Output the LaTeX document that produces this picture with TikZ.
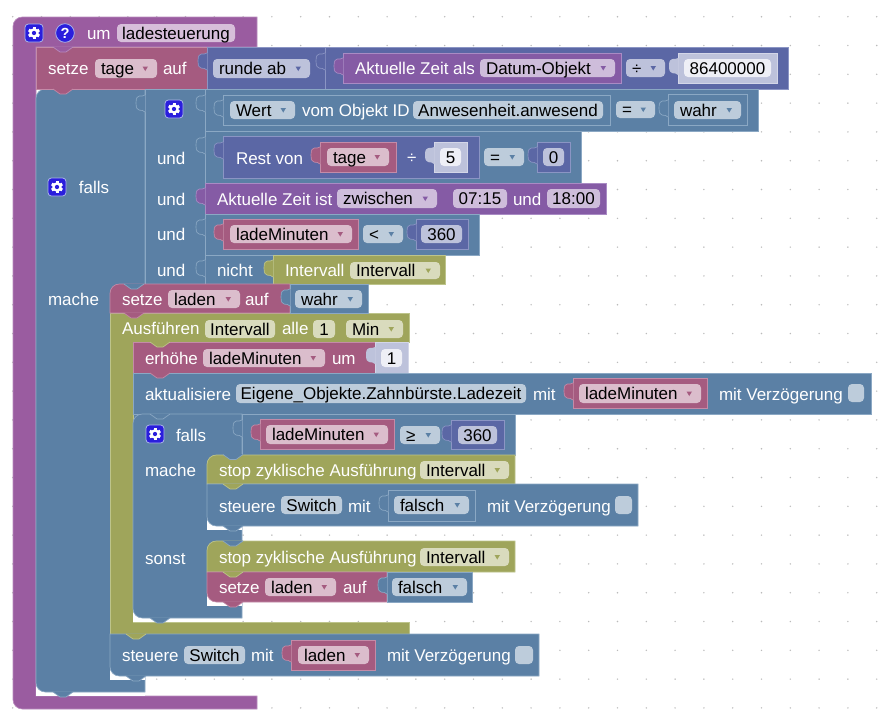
\documentclass[tikz,border=0pt]{standalone}
\usepackage{fontspec}
\setmainfont{Liberation Sans}
\definecolor{hat}{HTML}{9A5CA0}\definecolor{hatL}{HTML}{B98CBD}\definecolor{hatF}{HTML}{D7BEDA}
\definecolor{rd}{HTML}{A55B80}\definecolor{rdL}{HTML}{C48BA8}\definecolor{rdF}{HTML}{DBBDCC}
\definecolor{bl}{HTML}{5B80A5}\definecolor{blL}{HTML}{8BA8C4}\definecolor{blF}{HTML}{BDCCDB}
\definecolor{ind}{HTML}{5B67A5}\definecolor{indL}{HTML}{8B95C4}\definecolor{indF}{HTML}{BDC2DB}
\definecolor{dp}{HTML}{855BA5}\definecolor{dpL}{HTML}{A98BC4}\definecolor{dpF}{HTML}{CEBDDB}
\definecolor{ol}{HTML}{9FA55B}\definecolor{olL}{HTML}{BDC48B}\definecolor{olF}{HTML}{D9DBBD}
\definecolor{numF}{HTML}{BDC2DB}\definecolor{numL}{HTML}{D3D6E8}\definecolor{numW}{HTML}{EEEFF6}
\definecolor{gearb}{HTML}{2A1EDC}\definecolor{gearL}{HTML}{A9B4E8}\definecolor{griddot}{HTML}{BBBBBB}
\newcounter{nn}
\tikzset{
  lab/.style={inner sep=0pt,outer sep=0pt,text=white,font=\fontsize{12.75}{15}\selectfont},
  val/.style={inner sep=0pt,outer sep=0pt,text=black,font=\fontsize{12.75}{15}\selectfont},
  blockedge/.style={line width=0.5pt,draw=#1L,fill=#1}
}
% rectangular block
\newcommand{\blk}[5]{\path[blockedge=#1] (#2,#3) rectangle (#4,#5);}
% free label, left x and centre y
\newcommand{\lbl}[3]{\stepcounter{nn}\node[lab,anchor=base west] (t\thenn) at ({#1},{#2+6.3}) {#3};}
% field with centred text
\newcommand{\fld}[6]{\stepcounter{nn}\fill[#1,rounded corners=3pt] (#2,#3) rectangle (#4,#5);
  \node[val,anchor=base] (t\thenn) at ({(#2+#4)/2},{(#3+#5)/2+6.3}) {#6};}
% dropdown field: colour, box, text, triangle colour
\newcommand{\ddf}[7]{\stepcounter{nn}\fill[#1,rounded corners=3pt] (#2,#3) rectangle (#4,#5);
  \node[val,anchor=base west] (t\thenn) at ({#2+6},{(#3+#5)/2+6.3}) {#6};
  \fill[#7] ({#4-14.5},{(#3+#5)/2-2}) -- ({#4-9},{(#3+#5)/2-2}) -- ({#4-11.75},{(#3+#5)/2+2.5}) -- cycle;}
% input tab at left edge x, top y
\newcommand{\tab}[3]{\begin{scope}[shift={(#1,#2-1)}]
  \path[fill=#3] (0.4,0) -- (0,0) .. controls (-3,3) and (-9,-3) .. (-9,8) .. controls (-9,19) and (-3,13) .. (0,17) -- (0.4,17) -- cycle;
  \draw[#3L,line width=0.5pt] (0,0) .. controls (-3,3) and (-9,-3) .. (-9,8) .. controls (-9,19) and (-3,13) .. (0,17);
  \end{scope}}
% light number-block tab
\newcommand{\numtab}[2]{\begin{scope}[shift={(#1,#2-1)}]
  \path[fill=numF] (0.6,0) -- (0,0) .. controls (-3,3) and (-9,-3) .. (-9,8) .. controls (-9,19) and (-3,13) .. (0,17) -- (0.6,17) -- cycle;
  \end{scope}}
\newcommand{\numblk}[4]{\path[fill=numF,draw=numL,line width=0.5pt] (#1,#2) rectangle (#3,#4);}
% statement notch or bump centred at x on edge y
\newcommand{\bump}[3]{\begin{scope}[shift={(#1,#2)}]
  \path[fill=#3] (-10,-0.5) -- (-10,0) -- (-3,5) -- (3,5) -- (10,0) -- (10,-0.5) -- cycle;
  \draw[#3L,line width=0.5pt] (-10,0) -- (-3,5) -- (3,5) -- (10,0);
  \end{scope}}
\newcommand{\gearicon}[2]{\begin{scope}[shift={(#1,#2)}]
  \draw[fill=gearb,draw=gearL,line width=0.6pt,rounded corners=2.5pt] (-9,-9) rectangle (9,9);
  \foreach \a in {0,60,120} {\fill[white,rotate=\a] (-1.5,-6) rectangle (1.5,6);}
  \fill[white] (0,0) circle (3.6pt);
  \fill[gearb] (0,0) circle (1.6pt);
  \end{scope}}
\newcommand{\chk}[4]{\fill[blF,rounded corners=3pt] (#1,#2) rectangle (#3,#4);}
\begin{document}
\begin{tikzpicture}[x=0.75pt,y=-0.75pt]
\useasboundingbox (0,0) rectangle (883,726);
\fill[white] (0,0) rectangle (883,726);
% workspace grid
\foreach \i in {0,...,30} \foreach \j in {0,...,24} {\fill[griddot] ({12.7+28.8*\i},{16.7+28.8*\j}) circle (0.6pt);}
% hat block
\path[blockedge=hat,rounded corners=7pt] (13,709) -- (13,17) [sharp corners] -- (257,17) -- (257,47) -- (36,47) -- (36,696) -- (257,696) -- (257,709) [rounded corners=7pt] -- cycle;
\gearicon{34}{33}
\draw[fill=gearb,draw=gearL,line width=0.6pt] (65,33) circle (7pt);
\node[lab,font=\fontsize{11}{13}\selectfont\bfseries,anchor=center] (help) at (65,33) {?};
\lbl{87}{33}{um}
\fld{hatF}{117}{24}{235}{42}{ladesteuerung}
% falls (outer) body, with gap above the purple foot
\fill[white] (36,680) rectangle (145,696);
\path[blockedge=bl,rounded corners=7pt] (36,692) -- (36,89) [sharp corners] -- (145,89) -- (145,692) [rounded corners=7pt] -- cycle;
% setze tage
\path[blockedge=rd] (36,47) rectangle (207,89);
\blk{ind}{207}{47}{788}{89}
\draw[indL,line width=0.5pt] (325,47) -- (325,89);
\tab{207}{54}{ind}
\tab{325}{54}{ind}
\lbl{48}{68.5}{setze}
\ddf{rdF}{95}{59}{157}{78}{tage}{rd}
\lbl{163}{68.5}{auf}
\ddf{indF}{213}{59}{310}{78}{runde ab}{ind}
\blk{dp}{343}{53}{621}{83}
\tab{343}{59}{dp}
\lbl{355}{68}{Aktuelle Zeit als}
\ddf{dpF}{480}{59}{615}{77}{Datum-Objekt}{dp}
\ddf{indF}{626}{59}{665}{77}{÷}{ind}
\numblk{678}{53}{777}{83}
\numtab{678}{59}
\fld{numW}{684}{59}{771}{77}{86400000}
% und block
\path[blockedge=bl] (145,89) rectangle (205,285);
\tab{145}{96}{bl}
\gearicon{174}{109}
\lbl{157}{158}{und}
\lbl{157}{199}{und}
\lbl{157}{234}{und}
\lbl{157}{270}{und}
\gearicon{57}{187}
\lbl{79}{187}{falls}
\lbl{48}{299}{mache}
% row 1
\blk{bl}{205}{89}{758}{131}
\tab{205}{96}{bl}
\blk{bl}{223}{95}{610}{125}
\tab{223}{101}{bl}
\ddf{blF}{230}{101}{295}{119}{Wert}{bl}
\lbl{302}{110}{vom Objekt ID}
\fld{blF}{413}{101}{603}{119}{Anwesenheit.anwesend}
\ddf{blF}{616}{101}{655}{118}{=}{bl}
\blk{bl}{668}{94}{747}{125}
\tab{668}{101}{bl}
\ddf{blF}{674}{101}{741}{119}{wahr}{bl}
% row 2
\blk{bl}{205}{131}{581}{183}
\tab{205}{138}{bl}
\blk{ind}{223}{136}{479}{178}
\tab{223}{143}{ind}
\lbl{236}{158}{Rest von}
\blk{rd}{320}{142}{396}{172}
\tab{320}{148}{rd}
\ddf{rdF}{327}{148}{389}{166}{tage}{rd}
\lbl{407}{157}{÷}
\numblk{434}{142}{467}{172}
\numtab{434}{148}
\fld{numW}{440}{148}{461}{166}{5}
\ddf{blF}{484}{148}{524}{166}{=}{bl}
\blk{ind}{537}{142}{570}{172}
\tab{537}{148}{ind}
\fld{indF}{543}{148}{564}{166}{0}
% row 3
\blk{dp}{205}{183}{606}{214}
\tab{205}{189}{dp}
\lbl{217}{199}{Aktuelle Zeit ist}
\ddf{dpF}{337}{189}{437}{208}{zwischen}{dp}
\fld{dpF}{453}{189}{507}{208}{07:15}
\lbl{513}{199}{und}
\fld{dpF}{547}{189}{600}{208}{18:00}
% row 4
\blk{bl}{205}{214}{479}{255}
\tab{205}{220}{bl}
\blk{rd}{223}{219}{358}{249}
\tab{223}{225}{rd}
\ddf{rdF}{230}{225}{352}{243}{ladeMinuten}{rd}
\ddf{blF}{363}{225}{403}{243}{<}{bl}
\blk{ind}{416}{219}{468}{249}
\tab{416}{225}{ind}
\fld{indF}{421}{225}{462}{243}{360}
% row 5
\blk{bl}{205}{255}{273}{285}
\tab{205}{261}{bl}
\lbl{217}{270}{nicht}
\blk{ol}{273}{255}{445}{284}
\tab{273}{261}{ol}
\lbl{285}{270}{Intervall}
\ddf{olF}{350}{262}{440}{279}{Intervall}{ol}
% mache body: interval block
\path[blockedge=ol] (110,313) -- (409,313) -- (409,342) -- (133,342) -- (133,622) -- (409,622) -- (409,634) -- (110,634) -- cycle;
\lbl{122}{328}{Ausführen}
\fld{olF}{205}{320}{275}{338}{Intervall}
\lbl{282}{328}{alle}
\fld{olF}{313}{320}{335}{338}{1}
\ddf{olF}{346}{320}{403}{338}{Min}{ol}
% setze laden
\path[blockedge=rd,rounded corners=7pt] (110,313) -- (110,284) [sharp corners] -- (290,284) -- (290,313) -- cycle;
\blk{bl}{290}{284}{368}{313}
\tab{290}{290}{bl}
\lbl{122}{299}{setze}
\ddf{rdF}{168}{290}{240}{308}{laden}{rd}
\lbl{245}{299}{auf}
\ddf{blF}{295}{290}{362}{308}{wahr}{bl}
\bump{134}{284}{bl}
\bump{134}{313}{rd}
% erhoehe
\blk{rd}{133}{342}{375}{373}
\numblk{375}{342}{408}{373}
\numtab{375}{348}
\lbl{145}{358}{erhöhe}
\ddf{rdF}{203}{349}{325}{367}{ladeMinuten}{rd}
\lbl{332}{358}{um}
\fld{numW}{381}{349}{402}{367}{1}
\bump{160}{342}{ol}
% aktualisiere
\blk{bl}{133}{373}{871}{414}
\bump{160}{373}{rd}
\lbl{145}{394}{aktualisiere}
\fld{blF}{236}{384}{526}{403}{Eigene\_Objekte.Zahnbürste.Ladezeit}
\lbl{533}{394}{mit}
\blk{rd}{573}{378}{707}{408}
\tab{573}{384}{rd}
\ddf{rdF}{579}{384}{701}{403}{ladeMinuten}{rd}
\lbl{719}{394}{mit Verzögerung}
\chk{848}{384}{864}{402}
% inner falls
\fill[white] (133,606) -- (133,622) -- (242,622) -- (242,606) -- cycle;
\path[blockedge=bl,rounded corners=7pt] (133,618) -- (133,414) [sharp corners] -- (242,414) -- (242,618) [rounded corners=7pt] -- cycle;
\path[blockedge=bl] (242,414) rectangle (515,455);
\bump{160}{414}{bl}
\tab{242}{421}{bl}
\gearicon{155}{434}
\lbl{176}{435}{falls}
\blk{rd}{260}{419}{394}{449}
\tab{260}{425}{rd}
\ddf{rdF}{266}{425}{388}{444}{ladeMinuten}{rd}
\ddf{blF}{400}{426}{440}{444}{≥}{bl}
\blk{ind}{451}{420}{504}{449}
\tab{451}{426}{ind}
\fld{indF}{458}{426}{497}{444}{360}
\lbl{145}{470}{mache}
\lbl{145}{558}{sonst}
% mache branch
\fill[white] (207,515) rectangle (242,530);
\path[blockedge=ol,rounded corners=7pt] (207,484) -- (207,455) [sharp corners] -- (515,455) -- (515,484) -- cycle;
\bump{233}{454.5}{bl}
\lbl{219}{470}{stop zyklische Ausführung}
\ddf{olF}{420}{461}{509}{479}{Intervall}{ol}
\path[blockedge=bl,rounded corners=7pt] (207,484) -- (207,526) [sharp corners] -- (638,526) -- (638,484) -- cycle;
\bump{233}{484}{ol}
\lbl{219}{506}{steuere}
\fld{blF}{281}{496}{342}{514}{Switch}
\lbl{348}{506}{mit}
\blk{bl}{388}{490}{475}{521}
\tab{388}{496}{bl}
\ddf{blF}{394}{496}{469}{514}{falsch}{bl}
\lbl{487}{506}{mit Verzögerung}
\chk{615}{496}{632}{514}
\bump{233}{526}{bl}
% sonst branch
\fill[white] (207,592) rectangle (242,606);
\path[blockedge=ol,rounded corners=7pt] (207,572) -- (207,541) [sharp corners] -- (515,541) -- (515,572) -- cycle;
\bump{233}{541}{bl}
\lbl{219}{557}{stop zyklische Ausführung}
\ddf{olF}{420}{548}{509}{566}{Intervall}{ol}
\path[blockedge=rd,rounded corners=7pt] (207,572) -- (207,602) [sharp corners] -- (387,602) -- (387,572) -- cycle;
\blk{bl}{387}{572}{472}{602}
\tab{387}{578}{bl}
\bump{233}{572}{ol}
\lbl{219}{587}{setze}
\ddf{rdF}{265}{578}{336}{596}{laden}{rd}
\lbl{343}{587}{auf}
\ddf{blF}{392}{578}{467}{596}{falsch}{bl}
\bump{233}{602}{rd}
\bump{160}{618}{bl}
% last steuere
\fill[white] (110,660) rectangle (145,680);
\path[blockedge=bl,rounded corners=7pt] (110,634) -- (110,676) [sharp corners] -- (539,676) -- (539,634) -- cycle;
\bump{136}{634}{ol}
\lbl{122}{655}{steuere}
\fld{blF}{184}{646}{245}{664}{Switch}
\lbl{251}{655}{mit}
\blk{rd}{291}{640}{375}{670}
\tab{291}{646}{rd}
\ddf{rdF}{298}{646}{369}{664}{laden}{rd}
\lbl{387}{655}{mit Verzögerung}
\chk{515}{646}{533}{664}
\bump{136}{676}{bl}
% notches along the top
\bump{63}{47}{hat}
\bump{63}{89}{rd}
\bump{63}{692}{bl}
\end{tikzpicture}
\end{document}
